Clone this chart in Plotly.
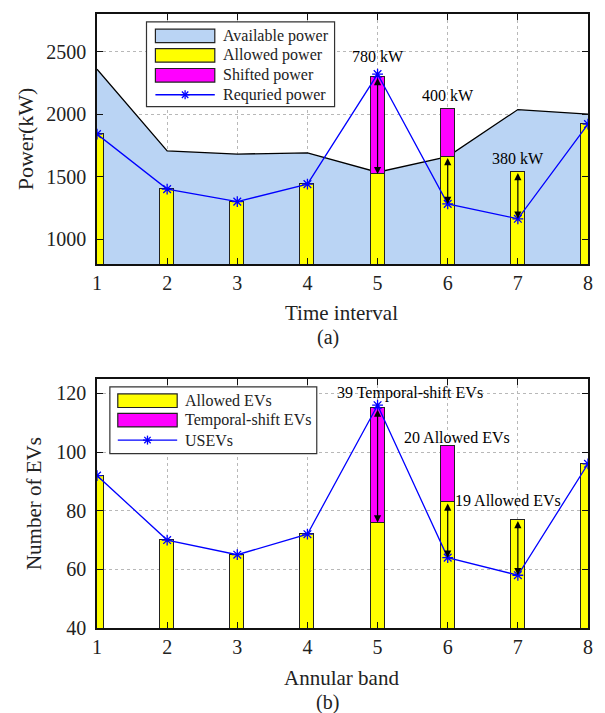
import plotly.graph_objects as go

# ---------------- data ----------------
intervals = [1, 2, 3, 4, 5, 6, 7, 8]
available_power = [2358, 1705, 1680, 1690, 1535, 1660, 2036, 2000]
allowed_power = [1840, 1400, 1300, 1440, 1520, 1660, 1540, 1920]
shifted_power = [None, None, None, None, 780, 380, None, None]
required_power = [1840, 1400, 1300, 1440, 2320, 1282, 1163, 1920]

bands = [1, 2, 3, 4, 5, 6, 7, 8]
allowed_evs = [92, 70, 65, 72, 76, 83, 77, 96]
shift_evs = [None, None, None, None, 39, 19, None, None]
usevs = [92, 70, 65, 72, 116, 64, 58, 96]

top_labels = ["780 kW", "400 kW", "380 kW"]
top_label_pos = [(5, 2460), (6, 2150), (7, 1645)]
bot_labels = ["39 Temporal-shift EVs", "20 Allowed EVs", "19 Allowed EVs"]
bot_label_pos = [(5.46, 120), (6.13, 105.1), (6.86, 83.4)]

# ---------------- geometry helpers ----------------
W, H = 605, 713
L, R, T, B = 97, 12, 12, 85
PW, PH = W - L - R, H - T - B


def px(x):
    return (x - L) / PW


def py(y):
    return (H - B - y) / PH


FONT = "Liberation Serif"
BLUE_FILL = "#BAD4F4"
YELLOW = "#FFFF00"
MAGENTA = "#FF00FF"
LINEBLUE = "#0000FF"

fig = go.Figure()

# top panel
fig.add_trace(go.Scatter(x=intervals, y=available_power, mode="lines", fill="tozeroy",
                         fillcolor=BLUE_FILL, line=dict(color="black", width=1.3),
                         xaxis="x", yaxis="y", showlegend=False, hoverinfo="skip"))
fig.add_trace(go.Bar(x=intervals, y=allowed_power, width=0.2, marker=dict(color=YELLOW, line=dict(color="#222", width=1.2)),
                     xaxis="x", yaxis="y3", showlegend=False))
fig.add_trace(go.Bar(x=intervals, y=shifted_power, width=0.2, marker=dict(color=MAGENTA, line=dict(color="#222", width=1.2)),
                     xaxis="x", yaxis="y3", showlegend=False))
fig.add_trace(go.Scatter(x=intervals, y=required_power, mode="lines+markers",
                         line=dict(color=LINEBLUE, width=1.3),
                         marker=dict(symbol="asterisk-open", size=9, line=dict(color=LINEBLUE, width=1.3)),
                         xaxis="x", yaxis="y3", showlegend=False))

# bottom panel
fig.add_trace(go.Bar(x=bands, y=allowed_evs, width=0.2, marker=dict(color=YELLOW, line=dict(color="#222", width=1.2)),
                     xaxis="x2", yaxis="y2", showlegend=False))
fig.add_trace(go.Bar(x=bands, y=shift_evs, width=0.2, marker=dict(color=MAGENTA, line=dict(color="#222", width=1.2)),
                     xaxis="x2", yaxis="y2", showlegend=False))
fig.add_trace(go.Scatter(x=bands, y=usevs, mode="lines+markers",
                         line=dict(color=LINEBLUE, width=1.3),
                         marker=dict(symbol="asterisk-open", size=9, line=dict(color=LINEBLUE, width=1.3)),
                         xaxis="x2", yaxis="y2", showlegend=False))

axis_common = dict(showline=True, linecolor="#111", linewidth=1.5, mirror="ticks",
                   ticks="inside", ticklen=6, tickwidth=1.3, tickcolor="#111",
                   showgrid=True, gridcolor="#b8b8b8", griddash="dot", gridwidth=1,
                   zeroline=False, tickfont=dict(family=FONT, size=20, color="#222"))

top_range = [800, 2800]
bot_range = [40, 125]

fig.update_layout(
    width=W, height=H, margin=dict(l=L, r=R, t=T, b=B),
    paper_bgcolor="white", plot_bgcolor="white", barmode="stack", bargap=0,
    font=dict(family=FONT, color="#222"),
    xaxis=dict(domain=[0, 1], anchor="y", range=[1, 8], tickvals=intervals, ticklabelstandoff=0, **axis_common),
    yaxis=dict(domain=[py(263), 1], anchor="x", range=top_range,
               tickvals=[1000, 1500, 2000, 2500], ticklabelstandoff=5, **axis_common),
    yaxis3=dict(overlaying="y", anchor="x", range=top_range, visible=False),
    xaxis2=dict(domain=[0, 1], anchor="y2", range=[1, 8], tickvals=bands, ticklabelstandoff=0, **axis_common),
    yaxis2=dict(domain=[0, py(378)], anchor="x2", range=bot_range,
                tickvals=[40, 60, 80, 100, 120], ticklabelstandoff=5, **axis_common),
)

annotations = []
shapes = []

# arrows (top): shifted part at 5, allowed -> required at 6 and 7
top_arrows = [
    (intervals[4], allowed_power[4] + shifted_power[4], allowed_power[4]),
    (intervals[5], allowed_power[5], required_power[5]),
    (intervals[6], allowed_power[6], required_power[6]),
]
bot_arrows = [
    (bands[4], allowed_evs[4] + shift_evs[4], allowed_evs[4]),
    (bands[5], allowed_evs[5], usevs[5]),
    (bands[6], allowed_evs[6], usevs[6]),
]
for (xv, y0, y1), (xr, yr) in [(a, ("x", "y")) for a in top_arrows] + [(a, ("x2", "y2")) for a in bot_arrows]:
    annotations.append(dict(x=xv, y=y1, ax=xv, ay=y0, xref=xr, yref=yr, axref=xr, ayref=yr,
                            text="", showarrow=True, arrowhead=2, startarrowhead=2, arrowside="end+start",
                            arrowsize=1.2, startarrowsize=1.2, arrowwidth=1.2, arrowcolor="black",
                            standoff=0, startstandoff=0))

for txt, (xv, yv) in zip(top_labels, top_label_pos):
    annotations.append(dict(x=xv, y=yv, xref="x", yref="y", text=txt, showarrow=False,
                            font=dict(family=FONT, size=16, color="black")))
for txt, (xv, yv) in zip(bot_labels, bot_label_pos):
    annotations.append(dict(x=xv, y=yv, xref="x2", yref="y2", text=txt, showarrow=False,
                            font=dict(family=FONT, size=16, color="black")))

# axis titles and panel captions
def ptext(txt, x, y, size, angle=0):
    annotations.append(dict(x=px(x), y=py(y), xref="paper", yref="paper", text=txt, showarrow=False,
                            xanchor="center", yanchor="middle", textangle=angle,
                            font=dict(family=FONT, size=size, color="#222")))

ptext("Time interval", 344, 312, 21)
ptext("(a)", 330, 337, 20)
ptext("Power(kW)", 25, 137, 22, -90)
ptext("Annular band", 344, 678, 21)
ptext("(b)", 330, 703, 20)
ptext("Number of EVs", 34, 503, 21, -90)


# custom legends
def legend_box(x0, y0, x1, y1):
    shapes.append(dict(type="rect", xref="paper", yref="paper", x0=px(x0), x1=px(x1), y0=py(y1), y1=py(y0),
                       fillcolor="white", line=dict(color="#333", width=1.2), layer="above"))


def legend_rect(x0, x1, yc, color, hh=6.8):
    shapes.append(dict(type="rect", xref="paper", yref="paper", x0=px(x0), x1=px(x1),
                       y0=py(yc + hh), y1=py(yc - hh), fillcolor=color,
                       line=dict(color="#222", width=1.2), layer="above"))


def legend_line(x0, x1, yc):
    shapes.append(dict(type="line", xref="paper", yref="paper", x0=px(x0), x1=px(x1), y0=py(yc), y1=py(yc),
                       line=dict(color=LINEBLUE, width=1.3), layer="above"))
    xc = (x0 + x1) / 2
    for dx, dy in [(4.5, 0), (0, 4.5), (3.2, 3.2), (3.2, -3.2)]:
        shapes.append(dict(type="line", xref="paper", yref="paper", xsizemode="pixel", ysizemode="pixel",
                           xanchor=px(xc), yanchor=py(yc), x0=-dx, x1=dx, y0=-dy, y1=dy,
                           line=dict(color=LINEBLUE, width=1.3), layer="above"))


def legend_text(txt, x, yc):
    annotations.append(dict(x=px(x), y=py(yc), xref="paper", yref="paper", text=txt, showarrow=False,
                            xanchor="left", yanchor="middle", font=dict(family=FONT, size=16, color="#222")))


top_legend_rows = [34, 53.5, 73.5, 93]
top_legend_names = ["Available power", "Allowed power", "Shifted power", "Requried power"]
legend_box(147, 20, 337, 105)
legend_rect(156, 216, top_legend_rows[0], BLUE_FILL)
legend_rect(156, 216, top_legend_rows[1], YELLOW)
legend_rect(156, 216, top_legend_rows[2], MAGENTA)
legend_line(156, 216, top_legend_rows[3])
for name, yc in zip(top_legend_names, top_legend_rows):
    legend_text(name, 222, yc)

bot_legend_rows = [400, 419.5, 439.5]
bot_legend_names = ["Allowed EVs", "Temporal-shift EVs", "USEVs"]
legend_box(110, 386, 319, 453)
legend_rect(118, 178, bot_legend_rows[0], YELLOW)
legend_rect(118, 178, bot_legend_rows[1], MAGENTA)
legend_line(118, 178, bot_legend_rows[2])
for name, yc in zip(bot_legend_names, bot_legend_rows):
    legend_text(name, 184, yc)

fig.update_layout(annotations=annotations, shapes=shapes)

fig.write_html("out.html", config={"displayModeBar": False},
               post_script="document.body.style.margin='0';document.body.style.padding='0';"
                           "document.body.style.overflow='hidden';")
